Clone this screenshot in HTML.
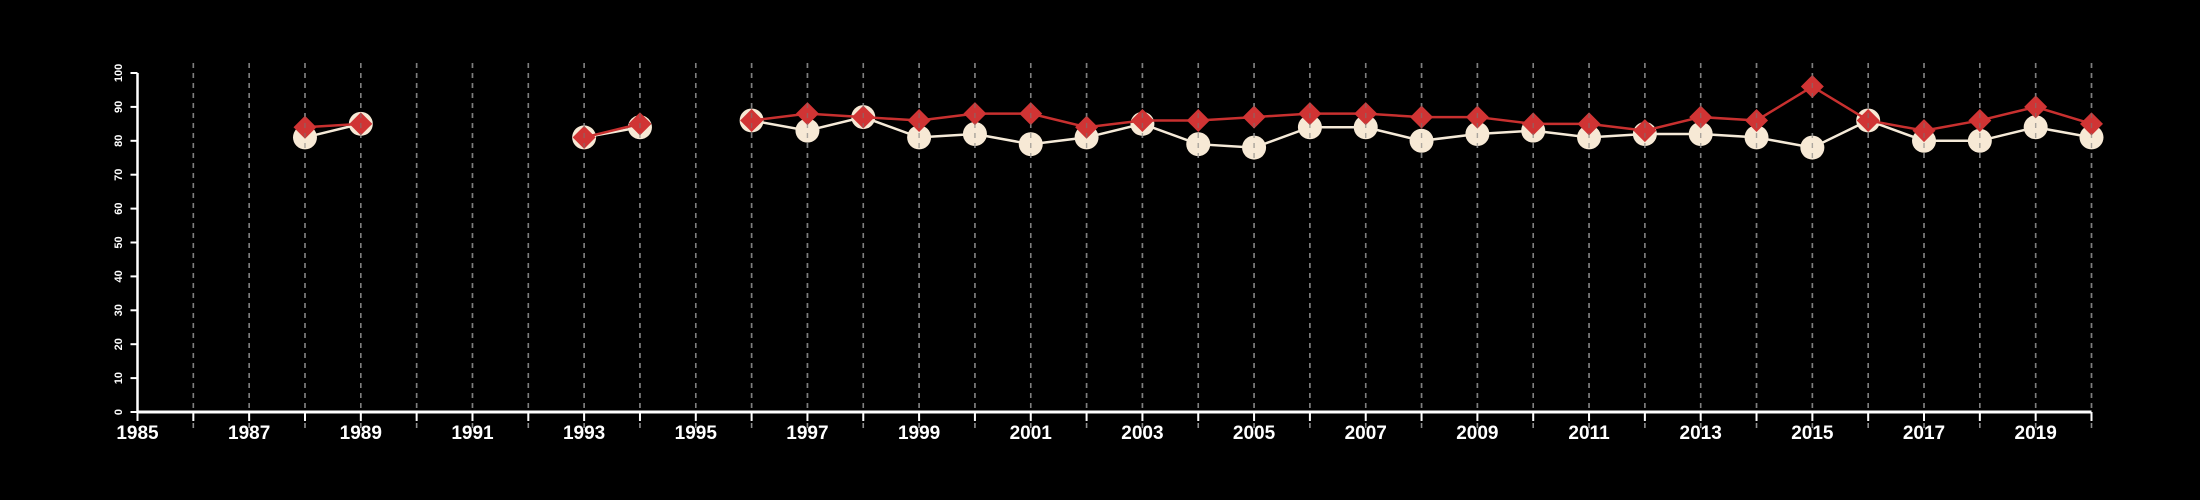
<!DOCTYPE html>
<html><head><meta charset="utf-8"><style>
html,body{margin:0;padding:0;background:#000;}
svg{display:block;}
text{font-family:"Liberation Sans Narrow","Liberation Sans",sans-serif;fill:#fff;}
</style></head><body>
<svg id="chart" width="2200" height="500" viewBox="0 0 2200 500" xmlns="http://www.w3.org/2000/svg">
<rect width="2200" height="500" fill="#000"/>
<g id="grid"></g>
<g id="axes"></g>
<g id="series"></g>
</svg>
<script>
const years = [1988,1989,1990,1991,1992,1993,1994,1995,1996,1997,1998,1999,2000,2001,2002,2003,2004,2005,2006,2007,2008,2009,2010,2011,2012,2013,2014,2015,2016,2017,2018,2019,2020];
const seriesA = [81,85,null,null,null,81,84,null,86,83,87,81,82,79,81,85,79,78,84,84,80,82,83,81,82,82,81,78,86,80,80,84,81];
const seriesB = [84,85,null,null,null,81,85,null,86,88,87,86,88,88,84,86,86,87,88,88,87,87,85,85,83,87,86,96,86,83,86,90,85];
const xTicks = [1985,1987,1989,1991,1993,1995,1997,1999,2001,2003,2005,2007,2009,2011,2013,2015,2017,2019];
const yTicks = [0,10,20,30,40,50,60,70,80,90,100];

const NS="http://www.w3.org/2000/svg";
const X0=137.5,X1=2091.5,Y0=412,Y1=73,XMIN=1985,XMAX=2020;
function sx(v){return X0+(v-XMIN)/(XMAX-XMIN)*(X1-X0);}
function sy(v){return Y0-(v/100)*(Y0-Y1);}
function mk(tag,attrs,parent){const e=document.createElementNS(NS,tag);for(const k in attrs)e.setAttribute(k,attrs[k]);parent.appendChild(e);return e;}
const grid=document.getElementById('grid'),axes=document.getElementById('axes'),ser=document.getElementById('series');

for(let y=XMIN+1;y<=XMAX;y++){
  const l=mk('line',{x1:sx(y),x2:sx(y),y1:63,y2:430,stroke:'#8a8a8a','stroke-width':1.6,'stroke-dasharray':'5,5'},grid);
  
  
}
const xa=mk('line',{x1:X0,x2:X1,y1:Y0,y2:Y0,stroke:'#fff','stroke-width':3},axes);


for(let y=XMIN;y<=XMAX;y++){
  const t=mk('line',{x1:sx(y),x2:sx(y),y1:Y0,y2:421,stroke:'#fff','stroke-width':2},axes);
  
  
}
xTicks.forEach(v=>{
  const t=mk('text',{x:sx(v),y:439,'text-anchor':'middle','font-size':19,'font-weight':'bold'},axes);
  t.textContent=v;
  
  
});
const ya=mk('line',{x1:X0,x2:X0,y1:Y1,y2:Y0,stroke:'#fff','stroke-width':2.5},axes);


yTicks.forEach(v=>{
  const t=mk('line',{x1:X0-7,x2:X0,y1:sy(v),y2:sy(v),stroke:'#fff','stroke-width':2},axes);
  
  
  const lb=mk('text',{x:0,y:0,'text-anchor':'middle','font-size':11,'font-weight':'bold',transform:'translate(122,'+sy(v)+') rotate(-90)',style:'font-family:"Liberation Sans",sans-serif'},axes);
  lb.textContent=v;
  
  
});

function drawLine(vals,color,name){
  let seg=[];
  const segs=[];
  vals.forEach((v,i)=>{if(v==null){if(seg.length)segs.push(seg);seg=[];}else seg.push([sx(years[i]),sy(v)]);});
  if(seg.length)segs.push(seg);
  segs.forEach(s=>{
    const p=mk('polyline',{points:s.map(q=>q.join(',')).join(' '),fill:'none',stroke:color,'stroke-width':2.5},ser);
    
    
  });
}
drawLine(seriesA,'#f5ead8','series-a');
seriesA.forEach((v,i)=>{
  if(v==null)return;
  const c=mk('circle',{cx:sx(years[i]),cy:sy(v),r:12,fill:'#f7e9d5'},ser);
  
  
});
drawLine(seriesB,'#c8302f','series-b');
seriesB.forEach((v,i)=>{
  if(v==null)return;
  const x=sx(years[i]),y=sy(v),r=11.5;
  const d=mk('polygon',{points:`${x},${y-r} ${x+r},${y} ${x},${y+r} ${x-r},${y}`,fill:'#d03434'},ser);
  
  
});
// dashed grid overlays markers faintly (as in reference)
for(let y=XMIN+1;y<=XMAX;y++){
  const l=mk('line',{x1:sx(y),x2:sx(y),y1:63,y2:412,stroke:'#777','stroke-width':1.4,'stroke-dasharray':'5,5','stroke-opacity':0.6},ser);
  
  
}
</script>
</body></html>
